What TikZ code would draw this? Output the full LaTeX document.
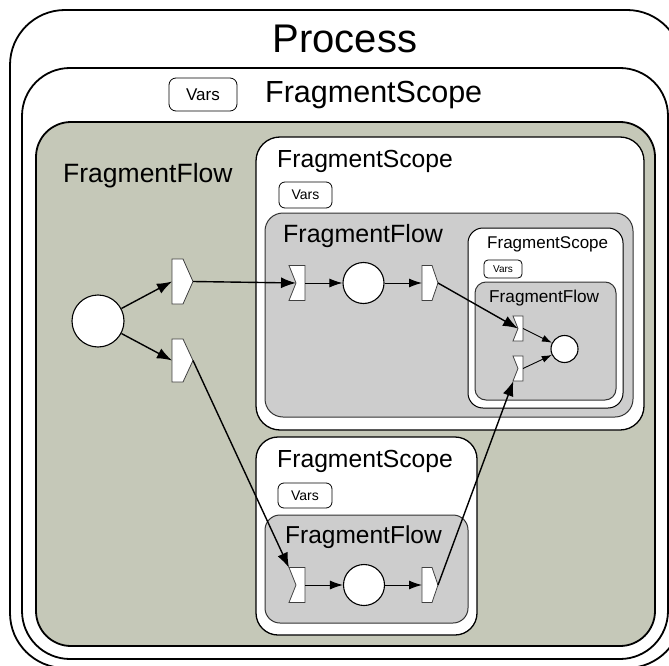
\documentclass[tikz,border=0pt]{standalone}
\usepackage{fontspec}
\setmainfont{Liberation Sans}
\usetikzlibrary{arrows.meta,calc}
\definecolor{flowgreen}{RGB}{197,200,184}
\definecolor{flowgray}{RGB}{205,205,205}

% port outlines drawn from the anchors of a (borderless) port node
\newcommand\drawoutport[2]{\draw[portline] (#1.north west) -- ([xshift=-#2]#1.north east) -- (#1.east) -- ([xshift=-#2]#1.south east) -- (#1.south west) -- cycle;}
\newcommand\drawinport[2]{\draw[portline] (#1.north west) -- (#1.north east) -- (#1.south east) -- (#1.south west) -- ([xshift=#2]#1.west) -- cycle;}

\begin{document}
\begin{tikzpicture}[x=1pt,y=-1pt,
  outerbox/.style={draw=black,line width=1.8pt,fill=white},
  scopebox/.style={draw=black,line width=1.3pt,fill=white},
  flowbox/.style={draw=black!80,line width=1pt,fill=flowgray},
  varsbox/.style={draw=black,line width=0.8pt,fill=white,rounded corners=#1,inner sep=0pt},
  port/.style={draw=none,inner sep=0pt,outer sep=0pt},
  portline/.style={draw=black!75,line width=0.8pt,fill=white},
  circ/.style={circle,draw=black,line width=1.1pt,fill=white,inner sep=0pt},
  arr/.style={line width=1.4pt,-{Latex[length=15pt,width=11pt]}},
  arrs/.style={line width=1pt,-{Latex[length=13pt,width=9pt]}},
  arrxs/.style={line width=0.9pt,-{Latex[length=10pt,width=7pt]}},
  lbl/.style={anchor=base west,inner sep=0pt}
]
\useasboundingbox (0,0) rectangle (669,666);
\fill[white] (0,0) rectangle (669,666);

% containers
\draw[outerbox, rounded corners=55pt] (10,10) rectangle (682,668);
\draw[outerbox, rounded corners=48pt] (22,68) rectangle (668,659);
\draw[line width=1.8pt, fill=flowgreen, rounded corners=35pt] (36,122) rectangle (655,646);

\draw[scopebox, rounded corners=24pt] (256,137) rectangle (644,430);
\draw[flowbox, rounded corners=18pt] (265,213) rectangle (633,417);
\draw[scopebox, line width=1pt, rounded corners=15pt] (468,228) rectangle (623,408);
\draw[flowbox, rounded corners=11pt] (475,282) rectangle (616,400);

\draw[scopebox, rounded corners=22pt] (256,437) rectangle (477,635);
\draw[flowbox, rounded corners=15pt] (265,515) rectangle (468,623);

% labels
\node[anchor=base,inner sep=0pt,font=\fontsize{40}{40}\selectfont] (tproc) at (345,53) {Process};
\node[varsbox=7pt,minimum width=68pt,minimum height=33pt,font=\fontsize{17}{17}\selectfont] (v0) at (203,94.5) {Vars};
\node[lbl,font=\fontsize{30.5}{30}\selectfont] (ts0) at (265,103) {FragmentScope};
\node[lbl,font=\fontsize{26.5}{26}\selectfont] (tf0) at (63,182) {FragmentFlow};

\node[lbl,font=\fontsize{24.7}{24}\selectfont] (ts1) at (277,167) {FragmentScope};
\node[varsbox=6pt,minimum width=53pt,minimum height=26pt,font=\fontsize{14}{14}\selectfont] (v1) at (305.5,195) {Vars};
\node[lbl,font=\fontsize{25}{25}\selectfont] (tf1) at (283,242) {FragmentFlow};

\node[lbl,font=\fontsize{17}{17}\selectfont] (ts3) at (487,248) {FragmentScope};
\node[varsbox=4pt,minimum width=38pt,minimum height=18pt,font=\fontsize{10}{10}\selectfont] (v3) at (503,269) {Vars};
\node[lbl,font=\fontsize{17.2}{17}\selectfont] (tf3) at (489,302) {FragmentFlow};

\node[lbl,font=\fontsize{24.7}{24}\selectfont] (ts2) at (277,467) {FragmentScope};
\node[varsbox=6pt,minimum width=54pt,minimum height=25pt,font=\fontsize{14}{14}\selectfont] (v2) at (305,495.5) {Vars};
\node[lbl,font=\fontsize{24.5}{24}\selectfont] (tf2) at (285,543) {FragmentFlow};

% ports
\node[port,minimum width=21pt,minimum height=45pt] (po1) at (182.5,281.5) {};
\node[port,minimum width=21pt,minimum height=43pt] (po2) at (182.5,360.5) {};
\node[port,minimum width=16pt,minimum height=35pt] (fi1) at (297,283) {};
\node[port,minimum width=16pt,minimum height=35pt] (fo1) at (430,283) {};
\node[port,minimum width=16pt,minimum height=35pt] (fi2) at (297,585) {};
\node[port,minimum width=16pt,minimum height=35pt] (fo2) at (430,585) {};
\node[port,minimum width=10pt,minimum height=25pt] (ni1) at (518,328.5) {};
\node[port,minimum width=10pt,minimum height=25pt] (ni2) at (518,368.5) {};
\drawoutport{po1}{10pt}
\drawoutport{po2}{10pt}
\drawinport{fi1}{7pt}
\drawoutport{fo1}{6pt}
\drawinport{fi2}{7pt}
\drawoutport{fo2}{6pt}
\drawinport{ni1}{5pt}
\drawinport{ni2}{5pt}

% places
\node[circ,minimum size=52pt] (c0) at (98,321) {};
\node[circ,minimum size=41pt] (c1) at (363.5,283) {};
\node[circ,minimum size=41pt] (c2) at (364,585) {};
\node[circ,minimum size=27pt] (c3) at (564.5,349) {};

% connectors
\draw[arr] (c0) -- (po1.west);
\draw[arr] (c0) -- (po2.west);
\draw[arr] (po1.east) -- ([xshift=7pt]fi1.west);
\draw[arr] (po2.east) -- (fi2);
\draw[arrs] (fi1.east) -- (c1);
\draw[arrs] (c1) -- (fo1.west);
\draw[arr] (fo1.east) -- ([xshift=5pt]ni1.west);
\draw[arrs] (fi2.east) -- (c2);
\draw[arrs] (c2) -- (fo2.west);
\draw[arr] (fo2.east) -- (ni2);
\draw[arrxs] (ni1.east) -- (c3);
\draw[arrxs] (ni2.east) -- (c3);
\end{tikzpicture}
\end{document}
